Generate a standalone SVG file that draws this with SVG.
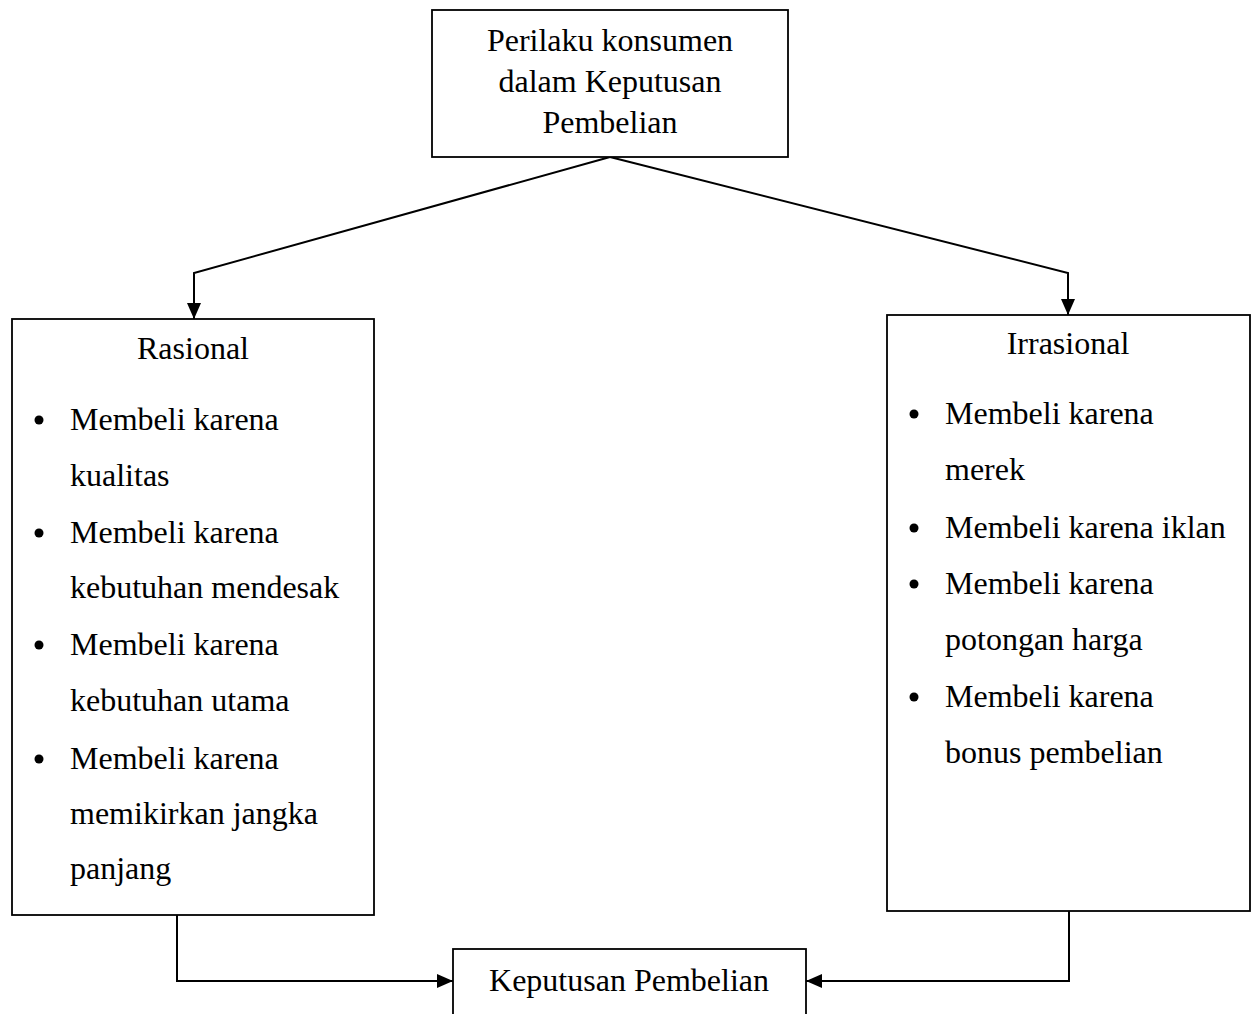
<svg xmlns="http://www.w3.org/2000/svg" width="1256" height="1014" viewBox="0 0 1256 1014">
<defs>
<style>
.box{fill:#fff;stroke:#000;stroke-width:1.8}
.t{font-family:"Liberation Serif","Times New Roman",serif;font-size:32px;fill:#000}
.c{text-anchor:middle}
.conn{fill:none;stroke:#000;stroke-width:2}
</style>
<marker id="ah" markerWidth="16" markerHeight="14" refX="16" refY="7" orient="auto" markerUnits="userSpaceOnUse">
<path d="M0,0 L16,7 L0,14 Z" fill="#000"/>
</marker>
</defs>
<rect width="1256" height="1014" fill="#fff"/>
<g id="connectors">
<polyline class="conn" points="610,157 194,273 194,319" marker-end="url(#ah)"/>
<polyline class="conn" points="610,157 1068,273 1068,315" marker-end="url(#ah)"/>
<polyline class="conn" points="177,915 177,981 453,981" marker-end="url(#ah)"/>
<polyline class="conn" points="1069,911 1069,981 806,981" marker-end="url(#ah)"/>
</g>
<g id="top">
<rect class="box" x="432" y="10" width="356" height="147"/>
<text class="t c" x="610" y="51">Perilaku konsumen</text>
<text class="t c" x="610" y="92">dalam Keputusan</text>
<text class="t c" x="610" y="133">Pembelian</text>
</g>
<g id="rasional">
<rect class="box" x="12" y="319" width="362" height="596"/>
<text class="t c" x="193" y="359">Rasional</text>
<circle cx="39" cy="420" r="4.5"/>
<text class="t" x="70" y="430">Membeli karena</text>
<text class="t" x="70" y="486">kualitas</text>
<circle cx="39" cy="533" r="4.5"/>
<text class="t" x="70" y="543">Membeli karena</text>
<text class="t" x="70" y="598">kebutuhan mendesak</text>
<circle cx="39" cy="645" r="4.5"/>
<text class="t" x="70" y="655">Membeli karena</text>
<text class="t" x="70" y="711">kebutuhan utama</text>
<circle cx="39" cy="759" r="4.5"/>
<text class="t" x="70" y="769">Membeli karena</text>
<text class="t" x="70" y="824">memikirkan jangka</text>
<text class="t" x="70" y="879">panjang</text>
</g>
<g id="irrasional">
<rect class="box" x="887" y="315" width="363" height="596"/>
<text class="t c" x="1068" y="354">Irrasional</text>
<circle cx="914" cy="414" r="4.5"/>
<text class="t" x="945" y="424">Membeli karena</text>
<text class="t" x="945" y="480">merek</text>
<circle cx="914" cy="528" r="4.5"/>
<text class="t" x="945" y="538">Membeli karena iklan</text>
<circle cx="914" cy="584" r="4.5"/>
<text class="t" x="945" y="594">Membeli karena</text>
<text class="t" x="945" y="650">potongan harga</text>
<circle cx="914" cy="697" r="4.5"/>
<text class="t" x="945" y="707">Membeli karena</text>
<text class="t" x="945" y="763">bonus pembelian</text>
</g>
<g id="keputusan">
<rect class="box" x="453" y="949" width="353" height="90"/>
<text class="t c" x="629" y="991">Keputusan Pembelian</text>
</g>
</svg>
